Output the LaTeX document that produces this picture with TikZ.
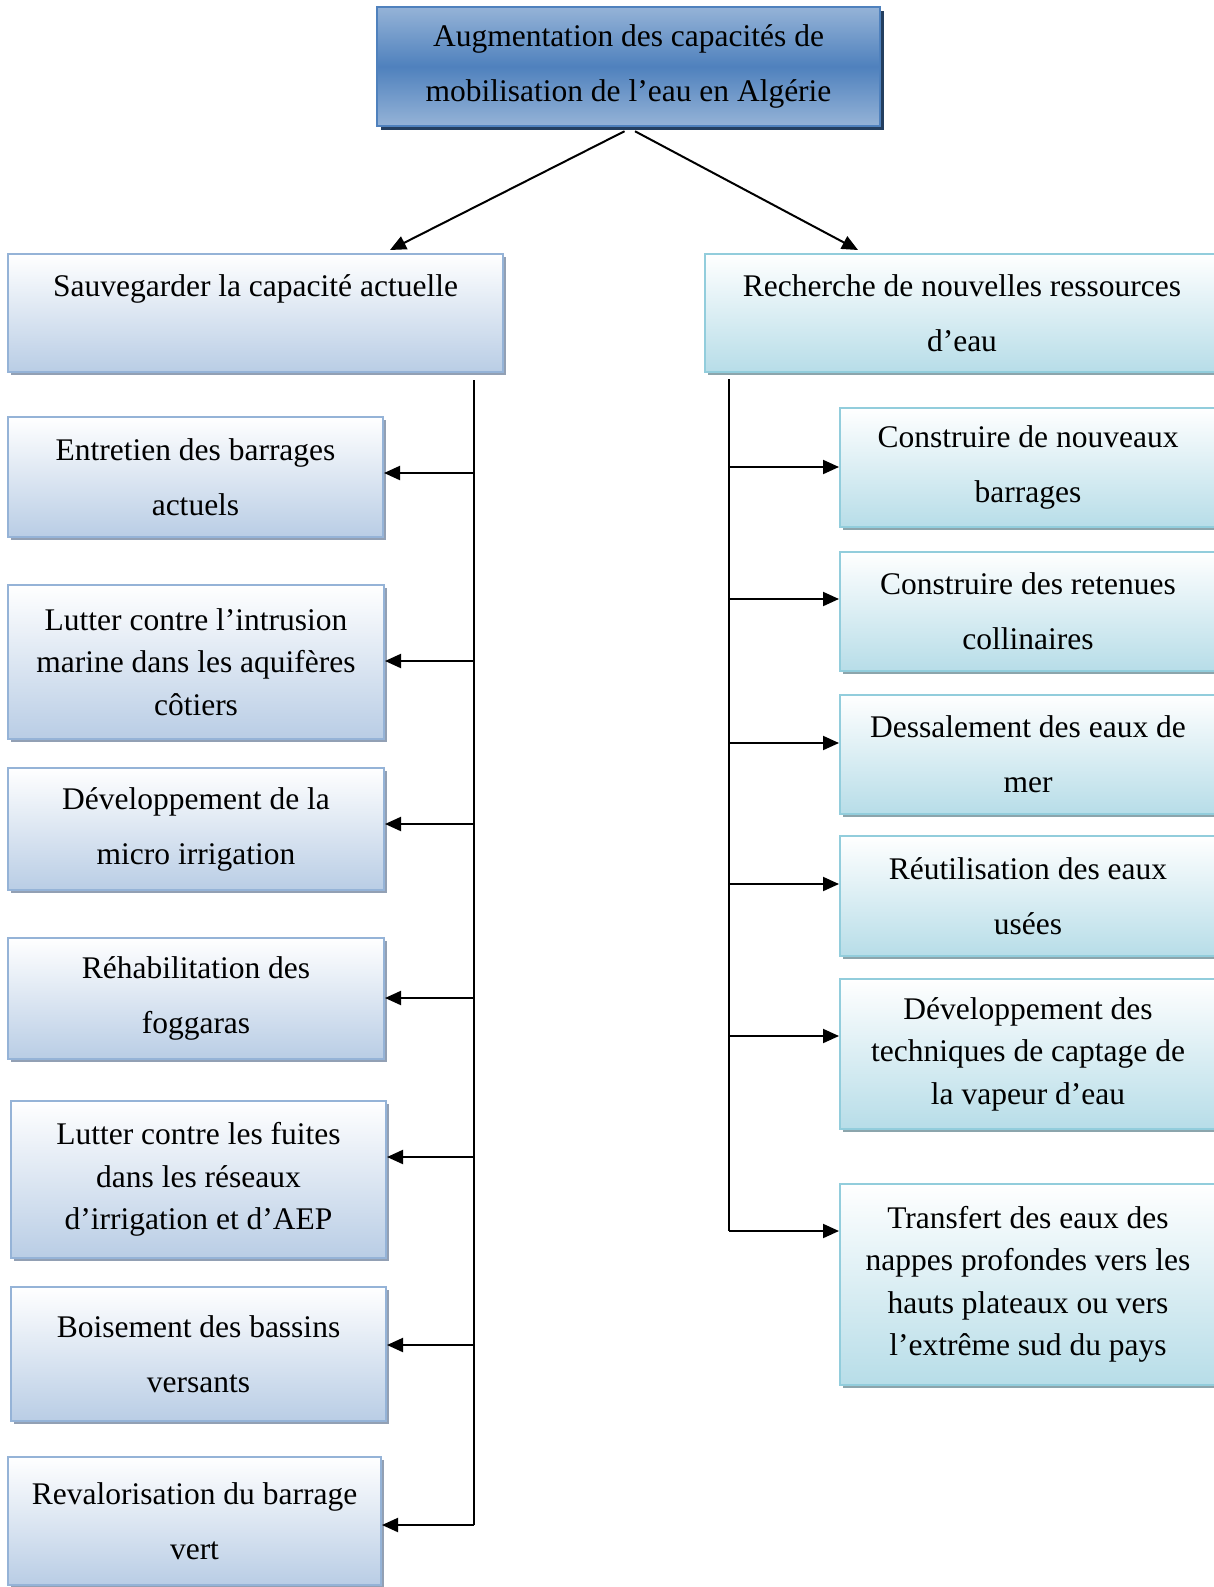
\documentclass[tikz,border=0pt]{standalone}
\usepackage{fontspec}
\setmainfont{Liberation Serif}
\usetikzlibrary{arrows.meta,shadows}
\definecolor{tlight}{RGB}{149,179,215}
\definecolor{tdark}{RGB}{79,129,189}
\definecolor{tborder}{RGB}{79,129,189}
\definecolor{tshadow}{RGB}{36,63,96}
\definecolor{lfill}{RGB}{185,205,229}
\definecolor{lborder}{RGB}{149,179,215}
\definecolor{lshadow}{RGB}{146,160,180}
\definecolor{rfill}{RGB}{183,221,232}
\definecolor{rborder}{RGB}{146,205,220}
\definecolor{rshadow}{RGB}{140,165,172}
\tikzset{
  twoline/.style={font=\fontsize{31.5}{55}\selectfont},
  multiline/.style={font=\fontsize{31.5}{42.5}\selectfont},
  topbox/.style={draw=tborder, line width=2.5pt, top color=tlight, bottom color=tlight, middle color=tdark,
    general shadow={fill=tshadow, shadow xshift=4pt, shadow yshift=-4pt},
    inner sep=0pt, align=center, twoline},
  lbox/.style={draw=lborder, line width=2pt, top color=white, bottom color=lfill,
    general shadow={fill=lshadow, shadow xshift=3pt, shadow yshift=-3pt},
    inner sep=0pt, align=center, twoline},
  rbox/.style={draw=rborder, line width=2pt, top color=white, bottom color=rfill,
    general shadow={fill=rshadow, shadow xshift=3pt, shadow yshift=-3pt},
    inner sep=0pt, align=center, twoline},
  trunk/.style={line width=2pt, black},
  arr/.style={line width=2pt, black, -{Triangle[length=16pt,width=14pt]}}
}
\begin{document}
\begin{tikzpicture}[x=1pt,y=-1pt]
\useasboundingbox (0,0) rectangle (1214,1587);
\fill[white] (0,0) rectangle (1214,1587);
% top
\node[topbox, minimum width=503pt, minimum height=119pt] (top) at (628.5,66.5)
  {\raisebox{-3pt}{Augmentation des capacités de}\\\raisebox{-3pt}{mobilisation de l’eau en Algérie}};
% second level
\node[lbox, minimum width=495pt, minimum height=118pt] (s1) at (255.5,313)
  {Sauvegarder la capacité actuelle\\~};
\node[rbox, minimum width=514pt, minimum height=118pt] (s2) at (962,313)
  {Recherche de nouvelles ressources\\d’eau};
% left column
\node[lbox, minimum width=375pt, minimum height=120pt] (e1) at (195.5,477)
  {Entretien des barrages\\actuels};
\node[lbox, multiline, minimum width=376pt, minimum height=154pt] (e2) at (196,662)
  {Lutter contre l’intrusion\\marine dans les aquifères\\côtiers};
\node[lbox, minimum width=376pt, minimum height=122pt] (e3) at (196,829)
  {Développement de la\\micro irrigation};
\node[lbox, minimum width=376pt, minimum height=121pt] (e4) at (196,998.5)
  {Réhabilitation des\\foggaras};
\node[lbox, multiline, minimum width=375pt, minimum height=157pt] (e5) at (198.5,1179.5)
  {Lutter contre les fuites\\dans les réseaux\\d’irrigation et d’AEP};
\node[lbox, minimum width=375pt, minimum height=134pt] (e6) at (198.5,1354)
  {Boisement des bassins\\versants};
\node[lbox, minimum width=373pt, minimum height=128pt] (e7) at (194.5,1521)
  {Revalorisation du barrage\\vert};
% right column
\node[rbox, minimum width=376pt, minimum height=119pt] (r1) at (1028,467.5)
  {Construire de nouveaux\\barrages};
\node[rbox, minimum width=376pt, minimum height=119pt] (r2) at (1028,611.5)
  {Construire des retenues\\collinaires};
\node[rbox, minimum width=376pt, minimum height=119pt] (r3) at (1028,754.5)
  {Dessalement des eaux de\\mer};
\node[rbox, minimum width=376pt, minimum height=120pt] (r4) at (1028,896)
  {Réutilisation des eaux\\usées};
\node[rbox, multiline, minimum width=376pt, minimum height=150pt] (r5) at (1028,1054)
  {Développement des\\techniques de captage de\\la vapeur d’eau};
\node[rbox, multiline, minimum width=376pt, minimum height=201pt] (r6) at (1028,1284.5)
  {Transfert des eaux des\\nappes profondes vers les\\hauts plateaux ou vers\\l’extrême sud du pays};
% top arrows
\draw[arr] ([xshift=-4pt,yshift=-4pt]top.south) -- ([xshift=134.5pt,yshift=3pt]s1.north);
\draw[arr] ([xshift=6.5pt,yshift=-4pt]top.south) -- ([xshift=-104pt,yshift=3pt]s2.north);
% left trunk
\coordinate (tL) at (474,380);
\coordinate (tLend) at (474,1525);
\draw[trunk] (tL) -- (tLend);
\draw[arr] (474,473) -- (e1.east |- 474,473);
\draw[arr] (474,661) -- (e2.east |- 474,661);
\draw[arr] (474,824) -- (e3.east |- 474,824);
\draw[arr] (474,998) -- (e4.east |- 474,998);
\draw[arr] (474,1157) -- (e5.east |- 474,1157);
\draw[arr] (474,1345) -- (e6.east |- 474,1345);
\draw[arr] (tLend) -- (e7.east |- tLend);
% right trunk
\coordinate (tR) at (729,379);
\coordinate (tRend) at (729,1231);
\draw[trunk] (tR) -- (tRend);
\draw[arr] (729,467) -- (r1.west |- 729,467);
\draw[arr] (729,599) -- (r2.west |- 729,599);
\draw[arr] (729,743) -- (r3.west |- 729,743);
\draw[arr] (729,884) -- (r4.west |- 729,884);
\draw[arr] (729,1036) -- (r5.west |- 729,1036);
\draw[arr] (tRend) -- (r6.west |- tRend);
\end{tikzpicture}
\end{document}
